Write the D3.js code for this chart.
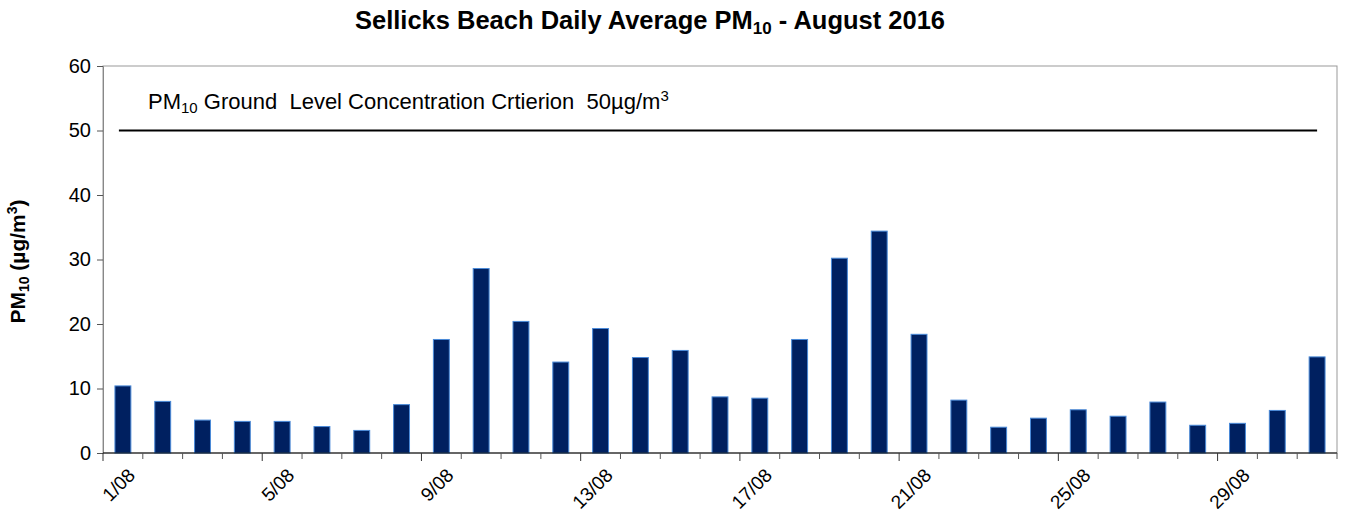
<!DOCTYPE html>
<html><head><meta charset="utf-8">
<script src="https://cdn.jsdelivr.net/npm/d3@7"></script>
<style>body{margin:0;background:#fff;} svg{display:block;font-family:"Liberation Sans",Arial,sans-serif;}</style>
</head><body>
<svg id="c" width="1349" height="523"></svg>
<script>
const days = ["1/08","2/08","3/08","4/08","5/08","6/08","7/08","8/08","9/08","10/08","11/08","12/08","13/08","14/08","15/08","16/08","17/08","18/08","19/08","20/08","21/08","22/08","23/08","24/08","25/08","26/08","27/08","28/08","29/08","30/08","31/08"];
const pm10 = [10.4,8.0,5.1,4.9,4.9,4.1,3.5,7.5,17.6,28.6,20.4,14.1,19.3,14.8,15.9,8.7,8.5,17.6,30.2,34.4,18.4,8.2,4.0,5.4,6.7,5.7,7.9,4.3,4.6,6.6,14.9];
const yTicks = [0,10,20,30,40,50,60];
const criterion = 50;
const labelEvery = 4;

const svg = d3.select("#c");
const L = 103, R = 1337, T = 66, B = 453;
const x = d3.scaleBand().domain(days).range([L, R]).paddingInner(0.6).paddingOuter(0.3);
const y = d3.scaleLinear().domain([0, 60]).range([B, T]);
const step = x.step();

// plot frame
svg.append("rect").attr("x", L).attr("y", T).attr("width", R - L).attr("height", B - T)
  .attr("fill", "none").attr("stroke", "#999").attr("stroke-width", 1);

// bars
svg.append("g").selectAll("rect").data(pm10).join("rect")
  .attr("x", (d, i) => x(days[i]))
  .attr("y", d => y(d))
  .attr("width", x.bandwidth())
  .attr("height", d => B - y(d))
  .attr("fill", "#002060")
  .attr("stroke", "#4a8ad8")
  .attr("stroke-width", 1);

// y axis
const yAxis = d3.axisLeft(y).tickValues(yTicks).tickSize(6).tickPadding(6);
const gy = svg.append("g").attr("transform", `translate(${L},0)`).call(yAxis);
gy.select(".domain").attr("stroke", "#888");
gy.selectAll(".tick line").attr("stroke", "#555");
gy.selectAll("text").attr("font-size", 20).attr("fill", "#000").attr("font-family", "Liberation Sans, Arial, sans-serif");

// x axis baseline
svg.append("line").attr("x1", L).attr("x2", R).attr("y1", B).attr("y2", B).attr("stroke", "#000").attr("stroke-width", 1);
// boundary ticks
const bounds = d3.range(days.length + 1).map(i => L + i * step);
svg.append("g").selectAll("line").data(bounds).join("line")
  .attr("x1", d => d).attr("x2", d => d)
  .attr("y1", B).attr("y2", (d, i) => i % labelEvery === 0 ? B + 8 : B + 6)
  .attr("stroke", (d, i) => i % labelEvery === 0 ? "#333" : "#555").attr("stroke-width", 1);

// x labels
svg.append("g").selectAll("text").data(days.filter((d, i) => i % labelEvery === 0)).join("text")
  .attr("transform", d => `translate(${x(d) + x.bandwidth() / 2 + 4},${B + 14}) rotate(-45)`)
  .attr("text-anchor", "end").attr("dy", "0.7em")
  .attr("font-size", 19).attr("fill", "#000")
  .text(d => d);

// criterion line
const cx1 = x(days[0]) + x.bandwidth() / 2 - 4;
const cx2 = x(days[days.length - 1]) + x.bandwidth() / 2;
svg.append("line").attr("x1", cx1).attr("x2", cx2).attr("y1", y(criterion)).attr("y2", y(criterion))
  .attr("stroke", "#000").attr("stroke-width", 2);

// criterion annotation
const ann = svg.append("text").attr("x", 148).attr("y", 109).attr("font-size", 22).attr("fill", "#000");
ann.append("tspan").text("PM");
ann.append("tspan").attr("font-size", 15).attr("dy", 4).text("10");
ann.append("tspan").attr("dy", -4).attr("xml:space", "preserve").text(" Ground  Level Concentration Crtierion  50µg/m");
ann.append("tspan").attr("font-size", 15).attr("dy", -8).text("3");

// title
const title = svg.append("text").attr("x", 650).attr("y", 29).attr("text-anchor", "middle")
  .attr("font-size", 25.5).attr("font-weight", "bold").attr("fill", "#000");
title.append("tspan").text("Sellicks Beach Daily Average PM");
title.append("tspan").attr("font-size", 17).attr("dy", 5).text("10");
title.append("tspan").attr("dy", -5).text(" - August 2016");

// y title
const yt = svg.append("text").attr("transform", `translate(25,${(T + B) / 2 + 2}) rotate(-90)`)
  .attr("text-anchor", "middle").attr("font-size", 21).attr("font-weight", "bold").attr("fill", "#000");
yt.append("tspan").text("PM");
yt.append("tspan").attr("font-size", 14).attr("dy", 4).text("10");
yt.append("tspan").attr("dy", -4).text(" (µg/m");
yt.append("tspan").attr("font-size", 14).attr("dy", -8).text("3");
yt.append("tspan").attr("dy", 8).text(")");
</script>
</body></html>
